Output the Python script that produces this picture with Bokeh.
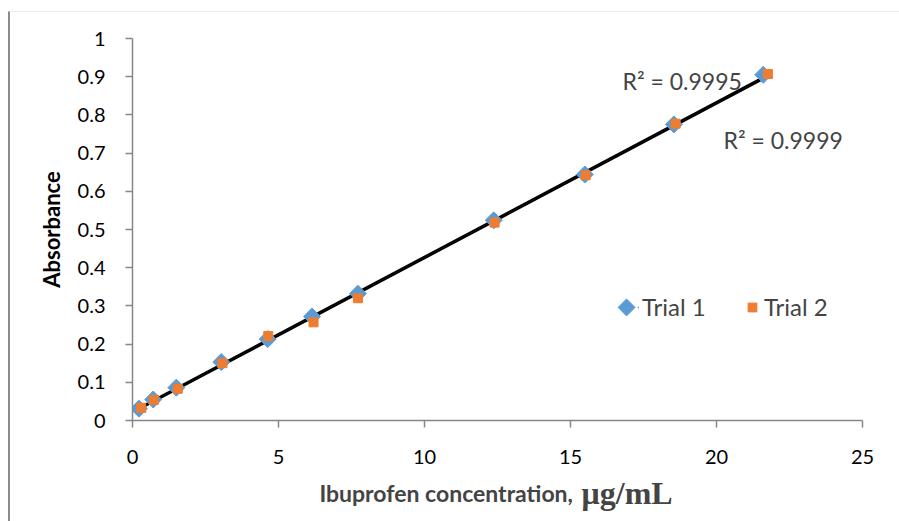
import numpy as np
from bokeh.plotting import figure
from bokeh.layouts import column
from bokeh.models import Range1d, FixedTicker, Label, Legend, LegendItem
from bokeh.embed import file_html
from bokeh.resources import INLINE

# Calibration data: ibuprofen concentration (µg/mL) vs absorbance
trial1_conc = [0.22, 0.71, 1.5, 3.04, 4.63, 6.15, 7.72, 12.37, 15.49, 18.54, 21.6]
trial1_abs = [0.031, 0.055, 0.086, 0.153, 0.213, 0.272, 0.332, 0.524, 0.644, 0.775, 0.905]
trial2_conc = [0.3, 0.73, 1.55, 3.08, 4.65, 6.2, 7.72, 12.4, 15.52, 18.6, 21.76]
trial2_abs = [0.033, 0.054, 0.083, 0.150, 0.221, 0.257, 0.320, 0.518, 0.642, 0.777, 0.907]

x_ticks = [0, 5, 10, 15, 20, 25]
y_ticks = [0, 0.1, 0.2, 0.3, 0.4, 0.5, 0.6, 0.7, 0.8, 0.9, 1.0]
y_tick_labels = ["0", "0.1", "0.2", "0.3", "0.4", "0.5", "0.6", "0.7", "0.8", "0.9", "1"]
r2_labels = ["R\u00b2 = 0.9995", "R\u00b2 = 0.9999"]
series_names = ["Trial 1", "Trial 2"]

BLUE = "#5B9BD5"
ORANGE = "#ED7D31"
AXIS = "#868686"
SANS = "Lato"
W = 889

p = figure(width=W, height=458, x_range=Range1d(0, 25), y_range=Range1d(0, 1),
           output_backend="svg", toolbar_location=None,
           min_border_left=122, min_border_right=37, min_border_top=26,
           min_border_bottom=50)
p.outline_line_color = None
p.grid.visible = False
p.background_fill_color = "white"
p.border_fill_color = "white"

for ax in (p.xaxis[0], p.yaxis[0]):
    ax.axis_line_color = AXIS
    ax.axis_line_width = 1.5
    ax.major_tick_line_color = AXIS
    ax.major_tick_line_width = 1.5
    ax.major_tick_out = 7
    ax.major_tick_in = 0
    ax.minor_tick_out = 0
    ax.minor_tick_in = 0
    ax.major_label_text_font = SANS
    ax.major_label_text_font_size = "20px"
    ax.major_label_text_color = "black"

p.yaxis.major_label_standoff = 20
p.xaxis.major_label_standoff = 22
p.xaxis.ticker = FixedTicker(ticks=x_ticks)
p.yaxis.ticker = FixedTicker(ticks=y_ticks)
p.yaxis.major_label_overrides = dict(zip(y_ticks, y_tick_labels))
p.xaxis.major_label_overrides = {t: str(t) for t in x_ticks}

p.yaxis.axis_label = "Absorbance"
p.yaxis.axis_label_text_font = SANS
p.yaxis.axis_label_text_font_style = "bold"
p.yaxis.axis_label_text_font_size = "22px"
p.yaxis.axis_label_text_color = "black"
p.yaxis.axis_label_standoff = 10

# Linear trendline for each trial
for xs, ys in ((trial1_conc, trial1_abs), (trial2_conc, trial2_abs)):
    k, b = np.polyfit(xs, ys, 1)
    fx = np.array([min(xs), max(xs)])
    p.line(fx, k * fx + b, line_color="black", line_width=2)

# Trial 1 uses a square turned 45 degrees (an even diamond)
r1 = p.scatter(trial1_conc, trial1_abs, marker="square", angle=np.pi / 4, size=12,
               fill_color=BLUE, line_color=BLUE)
r2 = p.scatter(trial2_conc, trial2_abs, marker="square", size=9,
               fill_color=ORANGE, line_color=ORANGE)

# Legend key for Trial 1: the legend itself draws markers unrotated, so the
# diamond key is drawn as its own marker just left of the legend text
key1 = p.scatter([16.92], [0.296], marker="square", angle=np.pi / 4, size=12,
                 fill_color=BLUE, line_color=BLUE)
leg1 = Legend(items=[LegendItem(label=series_names[0], renderers=[key1])],
              location=(505, 99), glyph_width=2, glyph_height=24, label_standoff=3,
              padding=0, margin=0, border_line_color=None, background_fill_alpha=0,
              label_text_font=SANS, label_text_font_size="24px")
leg2 = Legend(items=[LegendItem(label=series_names[1], renderers=[r2])],
              location=(609, 99), glyph_width=22, glyph_height=24, label_standoff=1,
              padding=0, margin=0, border_line_color=None, background_fill_alpha=0,
              label_text_font=SANS, label_text_font_size="24px")
p.add_layout(leg1)
p.add_layout(leg2)

p.add_layout(Label(x=16.78, y=0.89, text=r2_labels[0], text_font=SANS,
                   text_font_size="23px", text_baseline="middle"))
p.add_layout(Label(x=20.24, y=0.733, text=r2_labels[1], text_font=SANS,
                   text_font_size="23px", text_baseline="middle"))

# Strip under the chart carrying the x-axis title (its frame lines up with the
# chart's, so it shares the concentration scale): sans words, then the unit in
# a bold serif face
t = figure(width=W, height=51, x_range=p.x_range, y_range=Range1d(0, 51),
           output_backend="svg", toolbar_location=None, x_axis_type=None,
           y_axis_type=None, min_border=0)
t.min_border_left = 122
t.min_border_right = 37
t.min_border_top = t.min_border_bottom = 0
t.outline_line_color = None
t.grid.visible = False
t.add_layout(Label(x=6.40, y=29, text="Ibuprofen concentration,", text_font=SANS,
                   text_font_style="bold", text_font_size="23px", text_baseline="middle"))
t.add_layout(Label(x=15.38, y=29, text="\u03bcg/mL", text_font="Liberation Serif",
                   text_font_style="bold", text_font_size="32px", text_baseline="middle"))

page = column(p, t, spacing=0)
page.margin = (11, 0, 0, 8)
page.styles = {"border-left": "2px solid #8c8c8c", "border-top": "1px solid #ececec"}

open("out.html", "w").write(file_html(page, INLINE))
